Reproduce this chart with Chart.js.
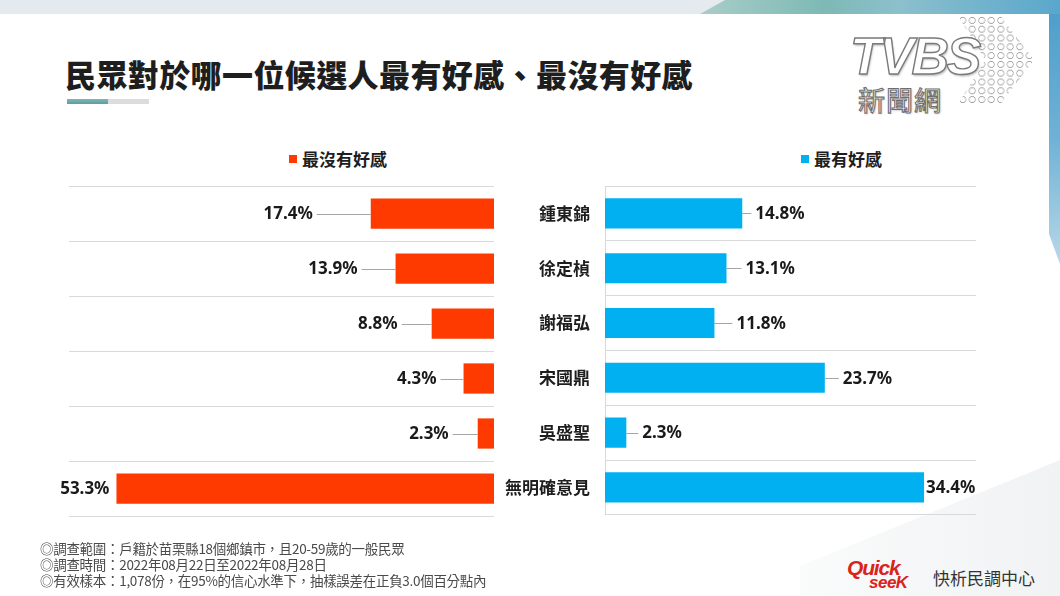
<!DOCTYPE html>
<html>
<head>
<meta charset="utf-8">
<script src="https://cdn.jsdelivr.net/npm/chart.js@4.4.1/dist/chart.umd.min.js"></script>
<style>
  body { margin: 0; background: #fff; }
  #pagina { position: relative; width: 1060px; height: 596px; overflow: hidden; background: #fff;
            font-family: "Noto Sans CJK TC", "Noto Sans", sans-serif; color: #222; }
  .abs { position: absolute; }
  #faixa-topo { left: 0; top: 0; width: 1060px; height: 14px; background: #e4eaed; }
  #faixa-cor { left: 700px; top: 0; width: 360px; height: 14px;
               background: linear-gradient(90deg, #a9cdc8 0%, #7db9b5 35%, #8cc0cc 55%, #5aa7cc 100%);
               clip-path: polygon(7% 0, 100% 0, 100% 100%, 0 100%); }
  #faixa-direita { left: 1049px; top: 14px; width: 11px; height: 250px;
                   background: linear-gradient(180deg, #4f9fcb 0%, #6fb2d6 50%, #b8d8e8 100%);
                   clip-path: polygon(0 0, 100% 0, 100% 100%, 0 88%); }
  #canto { left: 800px; top: 460px; width: 260px; height: 136px;
           background: linear-gradient(90deg, #fafbfb, #f0f2f4);
           clip-path: polygon(100% 0, 100% 100%, 0 100%, 0 78%); }
  #titulo { left: 65px; top: 56px; font-size: 31px; font-weight: 900; line-height: 36px; color: #1e1e1e; letter-spacing: 0.4px; }
  #traco1 { left: 67px; top: 99px; width: 41px; height: 5px; background: linear-gradient(180deg, #7db7b7, #5f9d9e); }
  #traco2 { left: 108px; top: 99px; width: 41px; height: 5px; background: #dcdcdc; }
  .legenda { top: 148px; font-size: 17px; font-weight: 700; line-height: 22px; color: #1e1e1e; white-space: nowrap; }
  .legenda span { display: inline-block; width: 8px; height: 8px; margin-right: 5px; vertical-align: 3px; }
  #pontos { left: 958px; top: 16px; width: 76px; height: 88px;
            background-image: radial-gradient(circle, #ffffff 0 2.4px, #8d8d8d 3.1px, rgba(0,0,0,0) 3.7px);
            background-size: 9.5px 8.8px;
            clip-path: polygon(0 0, 56% 0, 100% 50%, 56% 100%, 0 100%, 36% 50%); }
  #tvbs { left: 850px; top: 26px; font-family: "Liberation Sans", sans-serif; font-style: italic; font-weight: 900;
          font-size: 52px; letter-spacing: -2.5px; color: #fff; -webkit-text-stroke: 1.4px #7a7a7a;
          text-shadow: 1px 2px 2px rgba(0,0,0,0.25); line-height: 60px; }
  #tvbs-sub { left: 858px; top: 84px; font-size: 27px; line-height: 32px; color: #fff; -webkit-text-stroke: 1.1px #6e6e6e;
              text-shadow: 1px 1px 2px rgba(0,0,0,0.25); letter-spacing: 1px; }
  #notas { left: 40px; top: 540px; font-size: 13.5px; line-height: 16px; color: #4a4a4a; letter-spacing: -0.3px; }
  #quick { left: 847px; top: 556px; font-family: "Liberation Sans", sans-serif; font-style: italic; font-weight: 900;
           font-size: 21px; color: #d9231c; letter-spacing: -1.2px; line-height: 24px; }
  #seek { left: 869px; top: 573px; font-family: "Liberation Sans", sans-serif; font-style: italic; font-weight: 900;
          font-size: 17px; color: #d9231c; letter-spacing: -0.5px; line-height: 20px; }
  #centro { left: 933px; top: 566px; font-size: 17px; line-height: 24px; color: #333; }
  canvas { position: absolute; }
</style>
</head>
<body>
<div id="pagina">
  <div id="faixa-topo" class="abs"></div>
  <div id="faixa-cor" class="abs"></div>
  <div id="faixa-direita" class="abs"></div>
  <div id="canto" class="abs"></div>

  <div id="titulo" class="abs">民眾對於哪一位候選人最有好感、最沒有好感</div>
  <div id="traco1" class="abs"></div>
  <div id="traco2" class="abs"></div>

  <div id="pontos" class="abs"></div>
  <div id="tvbs" class="abs">TVBS</div>
  <div id="tvbs-sub" class="abs">新聞網</div>

  <div id="legenda-neg" class="abs legenda" style="left:289px"><span style="background:#ff3a00"></span>最沒有好感</div>
  <div id="legenda-pos" class="abs legenda" style="left:801px"><span style="background:#00b0f0"></span>最有好感</div>

  <canvas id="grafico-neg" width="500" height="400" style="left:0;top:140px"></canvas>
  <canvas id="grafico-pos" width="560" height="400" style="left:500px;top:140px"></canvas>

  <div id="notas" class="abs">
    ◎調查範圍：戶籍於苗栗縣18個鄉鎮市，且20-59歲的一般民眾<br>
    ◎調查時間：2022年08月22日至2022年08月28日<br>
    ◎有效樣本：1,078份，在95%的信心水準下，抽樣誤差在正負3.0個百分點內
  </div>

  <div id="quick" class="abs">Quick</div>
  <div id="seek" class="abs">seeK</div>
  <div id="centro" class="abs">快析民調中心</div>
</div>

<script>
// Categorias (candidatos) e valores
const candidatos = ['鍾東錦', '徐定楨', '謝福弘', '宋國鼎', '吳盛聖', '無明確意見'];
const serieNegativa = '最沒有好感';
const serieFavoravel = '最有好感';
const valoresNegativos = [17.4, 13.9, 8.8, 4.3, 2.3, 53.3];
const valoresFavoraveis = [14.8, 13.1, 11.8, 23.7, 2.3, 34.4];

const COR_NEG = '#ff3a00';
const COR_POS = '#00b0f0';
const COR_GRADE = '#d9d9d9';

// Plugin simples: escreve o valor ao lado da barra com uma linha guia
const rotulosPlugin = {
    id: 'rotulos',
    afterDatasetsDraw(chart, args, opts) {
        const ctx = chart.ctx;
        const meta = chart.getDatasetMeta(0);
        const valores = chart.data.datasets[0].data;
        const dir = opts.lado === 'esquerda' ? -1 : 1;

        ctx.save();
        ctx.font = '700 17px "Noto Sans", sans-serif';
        ctx.fillStyle = '#1a1a1a';
        ctx.textBaseline = 'middle';
        ctx.textAlign = dir < 0 ? 'right' : 'left';

        meta.data.forEach((barra, i) => {
            const gap = opts.gaps[i];
            if (gap > 10) {
                ctx.strokeStyle = '#a6a6a6';
                ctx.lineWidth = 1;
                ctx.beginPath();
                ctx.moveTo(barra.x, Math.round(barra.y) + 0.5);
                ctx.lineTo(barra.x + dir * (gap - 4), Math.round(barra.y) + 0.5);
                ctx.stroke();
            }
            ctx.fillText(valores[i].toFixed(1) + '%', barra.x + dir * gap, barra.y + 1);
        });
        ctx.restore();
    }
};

// Gráfico da esquerda (barras crescem para a esquerda)
new Chart(document.getElementById('grafico-neg'), {
    type: 'bar',
    data: {
        labels: candidatos,
        datasets: [{
            label: serieNegativa,
            data: valoresNegativos,
            backgroundColor: COR_NEG,
            categoryPercentage: 0.55,
            barPercentage: 1
        }]
    },
    options: {
        indexAxis: 'y',
        responsive: false,
        animation: false,
        layout: { padding: { left: 69, right: 6, top: 46, bottom: 24 } },
        plugins: {
            legend: { display: false },
            tooltip: { enabled: false },
            rotulos: { lado: 'esquerda', gaps: [58, 38, 34, 27, 29, 7] }
        },
        scales: {
            x: { display: false, min: 0, max: 60, reverse: true },
            y: {
                position: 'right',
                ticks: { display: false },
                grid: { color: COR_GRADE, drawTicks: false },
                border: { display: false }
            }
        }
    },
    plugins: [rotulosPlugin]
});

// Gráfico da direita (com os nomes no eixo)
new Chart(document.getElementById('grafico-pos'), {
    type: 'bar',
    data: {
        labels: candidatos,
        datasets: [{
            label: serieFavoravel,
            data: valoresFavoraveis,
            backgroundColor: COR_POS,
            categoryPercentage: 0.55,
            barPercentage: 1
        }]
    },
    options: {
        indexAxis: 'y',
        responsive: false,
        animation: false,
        layout: { padding: { left: 0, right: 84, top: 46, bottom: 24 } },
        plugins: {
            legend: { display: false },
            tooltip: { enabled: false },
            rotulos: { lado: 'direita', gaps: [13, 19, 22, 18, 16, 2] }
        },
        scales: {
            x: { display: false, min: 0, max: 40 },
            y: {
                position: 'left',
                afterFit: (escala) => { escala.width = 105; },
                ticks: {
                    padding: 15,
                    color: '#1e1e1e',
                    font: { family: '"Noto Sans CJK TC", sans-serif', size: 17, weight: '700' }
                },
                grid: { color: COR_GRADE, drawTicks: false },
                border: { display: true, color: COR_GRADE }
            }
        }
    },
    plugins: [rotulosPlugin]
});
</script>
</body>
</html>
